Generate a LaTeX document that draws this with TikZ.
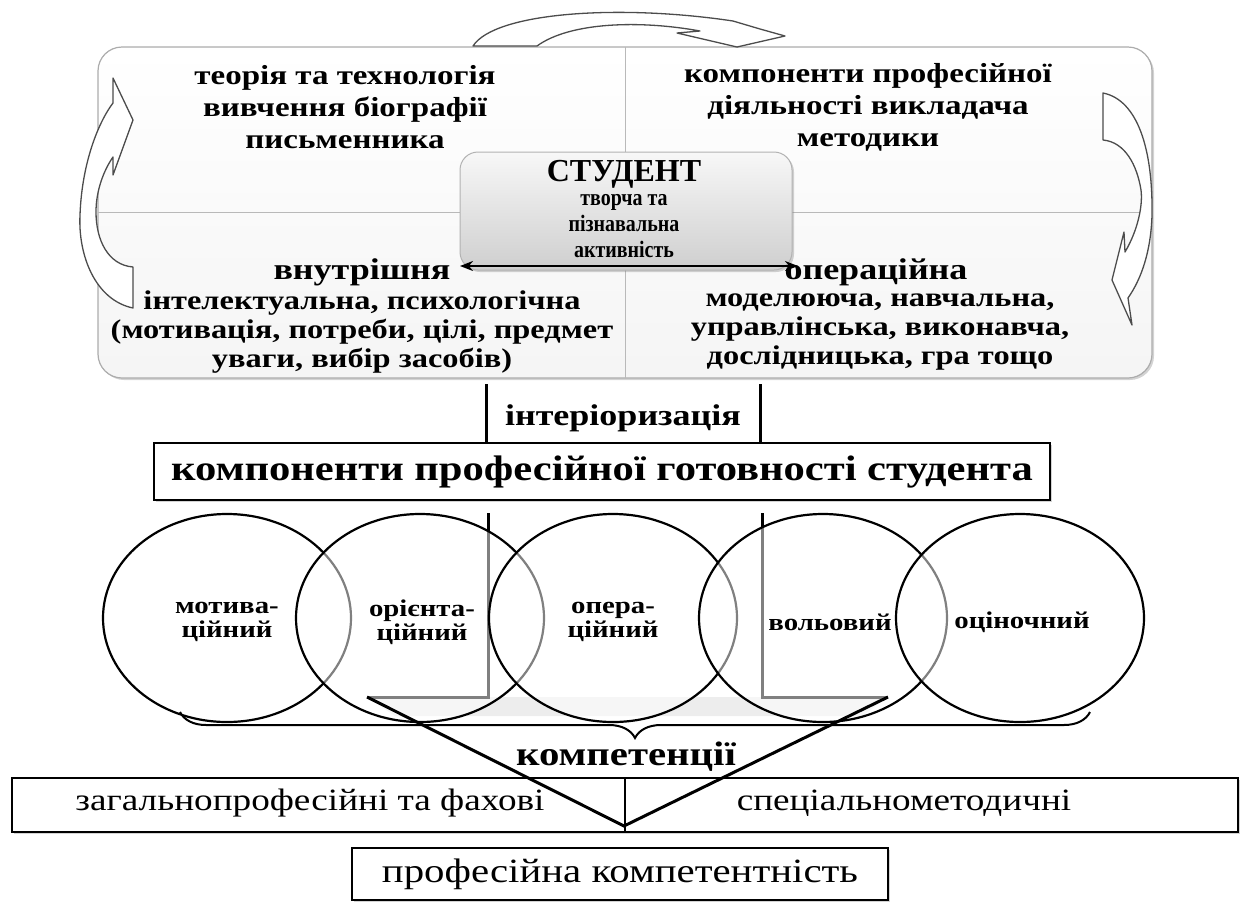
\documentclass[tikz,border=0pt]{standalone}
\usepackage{fontspec}
\setmainfont{Liberation Serif}
\newfontfamily\wf[FakeStretch=1.2]{Liberation Serif}
\newfontfamily\nf[FakeStretch=0.85]{Liberation Serif}
\usetikzlibrary{arrows.meta,shadows,decorations.pathreplacing,shapes.geometric}
\begin{document}
\begin{tikzpicture}[x=1pt,y=-1pt,
  every node/.style={inner sep=0pt,outer sep=0pt},
  qt/.style={align=center,font=\wf\bfseries\fontsize{27.5}{32}\selectfont},
  hd/.style={font=\wf\bfseries\fontsize{30}{32}\selectfont},
  sb/.style={align=center,font=\wf\bfseries\fontsize{27}{29}\selectfont},
  ct/.style={align=center,font=\nf\bfseries\fontsize{23.5}{26}\selectfont},
  cir/.style={ellipse,draw,line width=2.2pt,fill=white,fill opacity=0.5,minimum width=248pt,minimum height=208pt},
  cl/.style={align=center,font=\wf\bfseries\fontsize{24}{24}\selectfont},
  rt/.style={font=\wf\fontsize{31}{34}\selectfont},
  blk/.style={draw=black!70,fill=white,line width=1.3pt,line join=round},
  thk/.style={line width=3pt},
  shd/.style={drop shadow={shadow xshift=2pt,shadow yshift=-2pt,opacity=0.35}}
]
\useasboundingbox (0,0) rectangle (1243,903);
% main box
\node[draw=gray!65,line width=1.2pt,rounded corners=24pt,minimum width=1054pt,minimum height=331pt,
  top color=white,bottom color=gray!8,shd] (main) at (625,212.5) {};
\draw[gray!55,line width=1pt] (main.north) -- (main.south);
\draw[gray!55,line width=1pt] (main.west) -- (main.east);
% quadrant texts
\node[qt] (tl) at (345,107) {теорія та технологія\\вивчення біографії\\письменника};
\node[qt] (tr) at (868,107) {компоненти професійної\\діяльності викладача\\методики};
\node[hd] (bl0) at (362,272) {внутрішня};
\node[sb] (bl) at (362,332) {інтелектуальна, психологічна\\(мотивація, потреби, цілі, предмет\\уваги, вибір засобів)};
\node[hd] (br0) at (876,272) {операційна};
\node[sb] (br) at (880,332) {моделююча, навчальна,\\управлінська, виконавча,\\дослідницька, гра тощо};
% centre box
\node[draw=gray!60,line width=1pt,rounded corners=18pt,minimum width=332pt,minimum height=118pt,
  top color=gray!6,bottom color=gray!38,shd] (stud) at (626,211) {};
\node[font=\bfseries\fontsize{32}{34}\selectfont] (st) at (624,174) {СТУДЕНТ};
\node[ct] (st2) at (624,226) {творча та\\пізнавальна\\активність};
\coordinate (dL) at (460,266);
\coordinate (dR) at (798,266);
\draw[line width=2.5pt,{Stealth[length=13pt,width=10pt]}-{Stealth[length=13pt,width=10pt]}] (dL) -- (dR);
% curved arrows
\draw[blk] (473,46) .. controls (495,12) and (620,4) .. (733,21) -- (760,29) -- (785,36) -- (737,47) -- (677,33) -- (700,31)
  .. controls (640,20) and (570,22) .. (537,46) -- cycle;
\draw[blk] (133,308) .. controls (95,300) and (78,255) .. (80,215) .. controls (82,160) and (100,120) .. (113,103)
  -- (113,78) -- (133,120) -- (113,175) -- (113,157) .. controls (104,170) and (96,190) .. (96,212)
  .. controls (96,240) and (108,265) .. (133,267) -- cycle;
\draw[blk] (1103,93) .. controls (1138,100) and (1153,150) .. (1152,215) .. controls (1151,250) and (1142,278) .. (1128,298)
  -- (1132,325) -- (1112,280) -- (1124,232) -- (1125,252) .. controls (1138,230) and (1143,205) .. (1141,190)
  .. controls (1137,165) and (1125,142) .. (1103,140) -- cycle;
% interiorisation
\node[draw,line width=1.6pt,fill=white,minimum width=896pt,minimum height=57pt,shd] (comp) at (602,471.5) {};
\node[font=\wf\bfseries\fontsize{35.5}{36}\selectfont] (compt) at (602,472) {компоненти професійної готовності студента};
\coordinate (i1) at (486,384);
\coordinate (i2) at (760,384);
\draw[thk] (i1) -- (i1 |- comp.north);
\draw[thk] (i2) -- (i2 |- comp.north);
\node[font=\wf\bfseries\fontsize{30}{32}\selectfont] (int) at (623,418) {інтеріоризація};
% L shapes below
\coordinate (l1) at (488,513);
\coordinate (l2) at (762,513);
\coordinate (vL) at (367,697);
\coordinate (vR) at (888,697);
\fill[gray!14] (vL) -- (vR) -- (862,716) -- (395,716) -- cycle;
\draw[thk,line join=miter] (l1) -- (l1 |- vL) -- (vL);
\draw[thk,line join=miter] (l2) -- (l2 |- vR) -- (vR);
% circles
\node[cir] (c1) at (227,618) {};
\node[cir] (c2) at (420,618) {};
\node[cir] (c3) at (613,618) {};
\node[cir] (c4) at (823,618) {};
\node[cir] (c5) at (1020,618) {};
\node[cl] at (227,622) {мотива-\\ційний};
\node[cl] at (422,622) {орієнта-\\ційний};
\node[cl] at (613,622) {опера-\\ційний};
\node[cl] (t4) at (830,622) {вольовий};
\node[cl] (t5) at (1022,622) {оціночний};
% brace
\draw[line width=2pt,decorate,decoration={brace,mirror,amplitude=26pt}] (180,712) -- (1090,712);
\node[font=\wf\bfseries\fontsize{34}{36}\selectfont] (komp) at (626,757) {компетенції};
% competence boxes
\node[draw,line width=1.5pt,fill=white,minimum width=1226pt,minimum height=54pt,shd] (cbox) at (625,805) {};
\draw[line width=1.2pt] (cbox.north) -- (cbox.south);
\node[rt] (g1) at (310,803) {загальнопрофесійні та фахові};
\node[rt] (g2) at (904,803) {спеціальнометодичні};
\coordinate (vT) at (624,826);
\draw[thk,line join=miter] (vL) -- (vT) -- (vR);
\node[draw,line width=1.5pt,fill=white,minimum width=536pt,minimum height=52pt,shd] (pk) at (620,874) {};
\node[font=\wf\fontsize{34}{36}\selectfont] (pkt) at (620,874) {професійна компетентність};
\end{tikzpicture}
\end{document}
